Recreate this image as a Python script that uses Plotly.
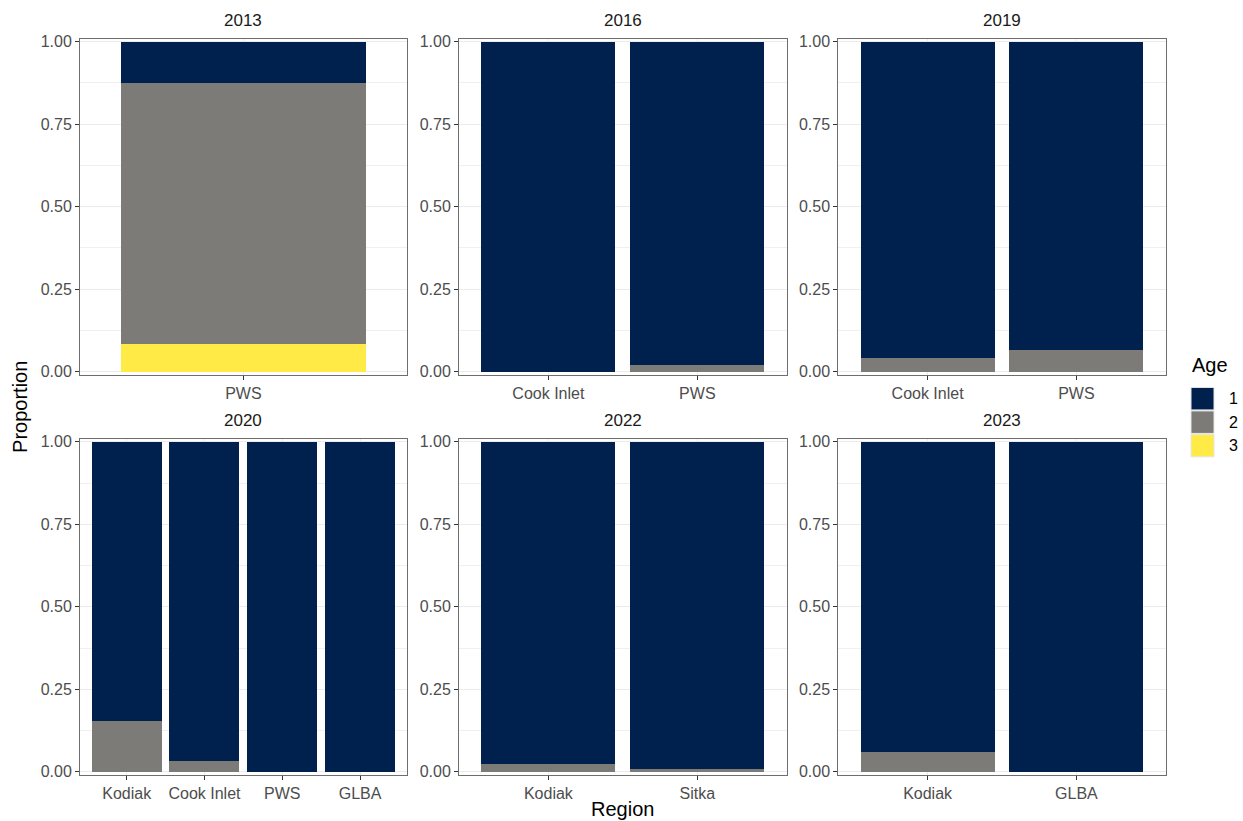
import plotly.graph_objects as go

# ---- data ----
years = ["2013", "2016", "2019", "2020", "2022", "2023"]
regions = {
    "2013": ["PWS"],
    "2016": ["Cook Inlet", "PWS"],
    "2019": ["Cook Inlet", "PWS"],
    "2020": ["Kodiak", "Cook Inlet", "PWS", "GLBA"],
    "2022": ["Kodiak", "Sitka"],
    "2023": ["Kodiak", "GLBA"],
}
age1 = {
    "2013": [0.125],
    "2016": [1.0, 0.980],
    "2019": [0.957, 0.935],
    "2020": [0.845, 0.967, 1.0, 1.0],
    "2022": [0.976, 0.991],
    "2023": [0.940, 1.0],
}
age2 = {
    "2013": [0.792],
    "2016": [0.0, 0.020],
    "2019": [0.043, 0.065],
    "2020": [0.155, 0.033, 0.0, 0.0],
    "2022": [0.024, 0.009],
    "2023": [0.060, 0.0],
}
age3 = {
    "2013": [0.083],
    "2016": [0.0, 0.0],
    "2019": [0.0, 0.0],
    "2020": [0.0, 0.0, 0.0, 0.0],
    "2022": [0.0, 0.0],
    "2023": [0.0, 0.0],
}
age_labels = ["1", "2", "3"]
colors = {"1": "#00204D", "2": "#7C7B78", "3": "#FFEA46"}
y_ticks = [0.0, 0.25, 0.5, 0.75, 1.0]
y_ticklabels = ["0.00", "0.25", "0.50", "0.75", "1.00"]

W, H = 1243, 821
FONT = "Liberation Sans, Arial, sans-serif"

# panel pixel boxes (target screen pixels)
col_x = [(80, 406.7), (459, 786.7), (838.3, 1165.7)]
row_y = [(38.3, 374.7), (439, 775.4)]

def px(x):
    return x / W

def py(y):
    # compensate the small vertical scaling observed in the rendered page
    yf = (y - 4.5) / 0.988
    return 1 - yf / H

fig = go.Figure()
layout = dict(
    width=W, height=H,
    margin=dict(l=0, r=0, t=0, b=0),
    paper_bgcolor="white", plot_bgcolor="white",
    barmode="stack", showlegend=False,
    font=dict(family=FONT, color="#4D4D4D"),
)
annotations = []
shapes = []

data_by_age = {"1": age1, "2": age2, "3": age3}

for i, yr in enumerate(years):
    r, c = divmod(i, 3)
    n = i + 1
    xa = "x" if n == 1 else f"x{n}"
    ya = "y" if n == 1 else f"y{n}"
    cats = regions[yr]
    for age in ["3", "2", "1"]:
        fig.add_trace(go.Bar(
            x=cats, y=data_by_age[age][yr], name=age,
            marker=dict(color=colors[age], line=dict(width=0)),
            width=0.9, xaxis=xa, yaxis=ya, showlegend=False,
            hovertemplate="%{x}: %{y}<extra>Age " + age + "</extra>",
        ))
    x0, x1 = col_x[c]
    y0, y1 = row_y[r]
    common = dict(
        showline=True, mirror=True, linecolor="#6E6E6E", linewidth=1,
        ticks="outside", ticklen=4, tickcolor="#333333", tickwidth=1,
        tickfont=dict(family=FONT, size=16, color="#4D4D4D"),
        gridcolor="#EBEBEB", gridwidth=1, zeroline=False, fixedrange=True,
    )
    layout["xaxis" if n == 1 else f"xaxis{n}"] = dict(
        domain=[px(x0), px(x1)], anchor=ya, type="category",
        categoryorder="array", categoryarray=cats,
        range=[-0.6, len(cats) - 0.4], showgrid=True, **common,
    )
    layout["yaxis" if n == 1 else f"yaxis{n}"] = dict(
        domain=[py(y1), py(y0)], anchor=xa, range=[-0.009, 1.009],
        tickvals=y_ticks, ticktext=y_ticklabels, showgrid=True,
        minor=dict(tickvals=[0.125, 0.375, 0.625, 0.875], showgrid=True,
                   gridcolor="#F0F0F0", gridwidth=0.6, ticks=""),
        **common,
    )
    annotations.append(dict(
        text=yr, x=px((x0 + x1) / 2), y=py(y0 - 18), xref="paper", yref="paper",
        showarrow=False, xanchor="center", yanchor="middle",
        font=dict(family=FONT, size=17, color="#1A1A1A"),
    ))

# axis titles
annotations.append(dict(text="Region", x=px(622), y=py(810), xref="paper", yref="paper",
                        showarrow=False, xanchor="center", yanchor="middle",
                        font=dict(family=FONT, size=20, color="black")))
annotations.append(dict(text="Proportion", x=px(20), y=py(407), xref="paper", yref="paper",
                        showarrow=False, xanchor="center", yanchor="middle", textangle=-90,
                        font=dict(family=FONT, size=20, color="black")))

# legend (drawn)
annotations.append(dict(text="Age", x=px(1190), y=py(365), xref="paper", yref="paper",
                        showarrow=False, xanchor="left", yanchor="middle",
                        font=dict(family=FONT, size=20, color="black")))
key_top = 387
key_h = 23.5
for k, age in enumerate(age_labels):
    t = key_top + k * key_h
    shapes.append(dict(type="rect", xref="paper", yref="paper",
                       x0=px(1191), x1=px(1214), y0=py(t + key_h - 0.5), y1=py(t + 0.5),
                       fillcolor=colors[age], line=dict(color="#E6E6E6", width=1)))
    annotations.append(dict(text=age, x=px(1227), y=py(t + key_h / 2), xref="paper", yref="paper",
                            showarrow=False, xanchor="left", yanchor="middle",
                            font=dict(family=FONT, size=16, color="black")))

layout["annotations"] = annotations
layout["shapes"] = shapes
fig.update_layout(**layout)
fig.write_html("out.html", config={"displayModeBar": False},
               post_script="document.body.style.margin='0';")
